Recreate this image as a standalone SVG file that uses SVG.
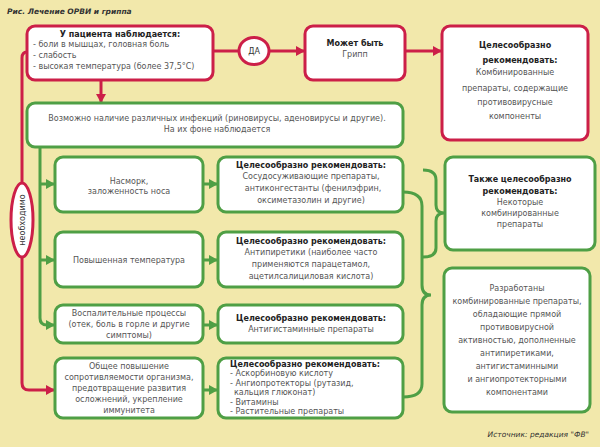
<svg xmlns="http://www.w3.org/2000/svg" width="600" height="447" viewBox="0 0 600 447">
<defs>
<style>
.t{font-family:"DejaVu Sans","Liberation Sans",sans-serif;font-size:8px;fill:#555}
.b{font-weight:bold;fill:#222}
.c{text-anchor:middle}
.rbox{fill:#fff;stroke:#cc1f48;stroke-width:3}
.gbox{fill:#fff;stroke:#4f9f45;stroke-width:3}
.rl{stroke:#cc1f48;stroke-width:3;fill:none}
.gl{stroke:#4f9f45;stroke-width:3;fill:none}
.ttl{font-family:"DejaVu Sans","Liberation Sans",sans-serif;font-size:7.5px;font-weight:bold;font-style:italic;fill:#333}
</style>
<marker id="ar" markerUnits="userSpaceOnUse" markerWidth="10" markerHeight="10" refX="8" refY="5" orient="auto"><path d="M0,0 L9,5 L0,10 z" fill="#cc1f48"/></marker>
<marker id="ag" markerUnits="userSpaceOnUse" markerWidth="10" markerHeight="10" refX="8" refY="5" orient="auto"><path d="M0,0 L9,5 L0,10 z" fill="#4f9f45"/></marker>
</defs>
<rect width="600" height="447" fill="#f2e8ab"/>
<text class="ttl" x="7" y="14">Рис. Лечение ОРВИ и гриппа</text>

<g id="connectors">
<path class="rl" d="M213,51 L239,51"/>
<path class="rl" d="M269,51 L304,51" marker-end="url(#ar)"/>
<path class="rl" d="M405,51 L441,51" marker-end="url(#ar)"/>
<path class="rl" d="M101,80 L101,102" marker-end="url(#ar)"/>
<path class="rl" d="M27,52 Q22,52 22,58 L22,383 Q22,390 29,390 L54,390" marker-end="url(#ar)"/>
<path class="gl" d="M40,147 L40,318 Q40,325 47,325 L54,325" marker-end="url(#ag)"/>
<path class="gl" d="M40,184 L54,184" marker-end="url(#ag)"/>
<path class="gl" d="M40,260 L54,260" marker-end="url(#ag)"/>
<path class="gl" d="M203,184 L217,184" marker-end="url(#ag)"/>
<path class="gl" d="M203,260 L217,260" marker-end="url(#ag)"/>
<path class="gl" d="M203,325 L217,325" marker-end="url(#ag)"/>
<path class="gl" d="M203,390 L217,390" marker-end="url(#ag)"/>
<path class="gl" d="M403,192 Q422,192 422,206 L422,285 Q422,295 431,295 Q422,295 422,305 L422,384 Q422,397 403,397"/>
<path class="gl" d="M423,170 Q436,170 436,180 L436,205 Q436,213 444,213 Q436,213 436,221 L436,248 Q436,257 423,257"/>
</g>

<g id="da">
<ellipse cx="254" cy="51" rx="15" ry="13.5" class="rbox"/>
<text class="t c" x="254" y="54" style="fill:#333">ДА</text>
</g>

<g id="neobhodimo">
<ellipse cx="22" cy="220" rx="11" ry="37" class="rbox"/>
<text class="t c" transform="translate(25,220) rotate(-90)" x="0" y="0" style="fill:#333">необходимо</text>
</g>

<g id="patient">
<rect x="27" y="26" width="186" height="54" rx="8" class="rbox"/>
<text class="t b c" x="120" y="37">У пациента наблюдается:</text>
<text class="t" x="33" y="47">- боли в мышцах, головная боль</text>
<text class="t" x="33" y="58">- слабость</text>
<text class="t" x="33" y="69">- высокая температура (более 37,5°С)</text>
</g>

<g id="gripp">
<rect x="305" y="26" width="100" height="54" rx="8" class="rbox"/>
<text class="t b c" x="355" y="46">Может быть</text>
<text class="t c" x="355" y="57">Грипп</text>
</g>

<g id="rec-gripp">
<rect x="442" y="26" width="146" height="114" rx="8" class="rbox"/>
<text class="t b c" x="515" y="48">Целесообразно</text>
<text class="t b c" x="520" y="63">рекомендовать:</text>
<text class="t c" x="515" y="75">Комбинированные</text>
<text class="t c" x="515" y="91">препараты, содержащие</text>
<text class="t c" x="515" y="105">противовирусные</text>
<text class="t c" x="515" y="119">компоненты</text>
</g>

<g id="infections">
<rect x="27" y="103" width="376" height="44" rx="8" class="gbox"/>
<text class="t c" x="217" y="121">Возможно наличие различных инфекций (риновирусы, аденовирусы и другие).</text>
<text class="t c" x="217" y="132">На их фоне наблюдается</text>
</g>

<g id="nasmork">
<rect x="55" y="157" width="148" height="55" rx="8" class="gbox"/>
<text class="t c" x="129" y="184">Насморк,</text>
<text class="t c" x="129" y="194">заложенность носа</text>
</g>
<g id="rec-nasmork">
<rect x="218" y="157" width="185" height="55" rx="8" class="gbox"/>
<text class="t b c" x="311" y="168">Целесообразно рекомендовать:</text>
<text class="t c" x="311" y="179">Сосудосуживающие препараты,</text>
<text class="t c" x="313" y="191">антиконгестанты (фенилэфрин,</text>
<text class="t c" x="311" y="203">оксиметазолин и другие)</text>
</g>

<g id="temp">
<rect x="55" y="232" width="148" height="55" rx="8" class="gbox"/>
<text class="t c" x="129" y="263">Повышенная температура</text>
</g>
<g id="rec-temp">
<rect x="218" y="232" width="185" height="55" rx="8" class="gbox"/>
<text class="t b c" x="311" y="244">Целесообразно рекомендовать:</text>
<text class="t c" x="311" y="255">Антипиретики (наиболее часто</text>
<text class="t c" x="311" y="267">применяются парацетамол,</text>
<text class="t c" x="311" y="279">ацетилсалициловая кислота)</text>
</g>

<g id="vospal">
<rect x="55" y="305" width="148" height="38" rx="8" class="gbox"/>
<text class="t c" x="129" y="316">Воспалительные процессы</text>
<text class="t c" x="129" y="327">(отек, боль в горле и другие</text>
<text class="t c" x="129" y="338">симптомы)</text>
</g>
<g id="rec-vospal">
<rect x="218" y="305" width="185" height="38" rx="8" class="gbox"/>
<text class="t b c" x="311" y="321">Целесообразно рекомендовать:</text>
<text class="t c" x="311" y="332">Антигистаминные препараты</text>
</g>

<g id="immunitet">
<rect x="55" y="358" width="148" height="60" rx="8" class="gbox"/>
<text class="t c" x="129" y="369">Общее повышение</text>
<text class="t c" x="129" y="380">сопротивляемости организма,</text>
<text class="t c" x="129" y="391">предотвращение развития</text>
<text class="t c" x="129" y="402">осложнений, укрепление</text>
<text class="t c" x="129" y="413">иммунитета</text>
</g>
<g id="rec-immunitet">
<rect x="218" y="358" width="185" height="60" rx="8" class="gbox"/>
<text class="t b" x="230" y="367">Целесообразно рекомендовать:</text>
<text class="t" x="230" y="376">- Аскорбиновую кислоту</text>
<text class="t" x="230" y="386">- Ангиопротекторы (рутазид,</text>
<text class="t" x="234" y="395">кальция глюконат)</text>
<text class="t" x="230" y="405">- Витамины</text>
<text class="t" x="230" y="414">- Растительные препараты</text>
</g>

<g id="takzhe">
<rect x="445" y="157" width="150" height="93" rx="8" class="gbox"/>
<text class="t b c" x="520" y="182">Также целесообразно</text>
<text class="t b c" x="520" y="194">рекомендовать:</text>
<text class="t c" x="520" y="205">Некоторые</text>
<text class="t c" x="520" y="216">комбинированные</text>
<text class="t c" x="520" y="227">препараты</text>
</g>

<g id="razrabotany">
<rect x="444" y="268" width="146" height="144" rx="8" class="gbox"/>
<text class="t c" x="517" y="291">Разработаны</text>
<text class="t c" x="517" y="304">комбинированные препараты,</text>
<text class="t c" x="517" y="317">обладающие прямой</text>
<text class="t c" x="517" y="330">противовирусной</text>
<text class="t c" x="517" y="343">активностью, дополненные</text>
<text class="t c" x="517" y="356">антипиретиками,</text>
<text class="t c" x="517" y="369">антигистаминными</text>
<text class="t c" x="517" y="382">и ангиопротекторными</text>
<text class="t c" x="517" y="395">компонентами</text>
</g>

<text class="ttl" x="589" y="437" text-anchor="end" style="font-weight:normal">Источник: редакция "ФВ"</text>
</svg>
